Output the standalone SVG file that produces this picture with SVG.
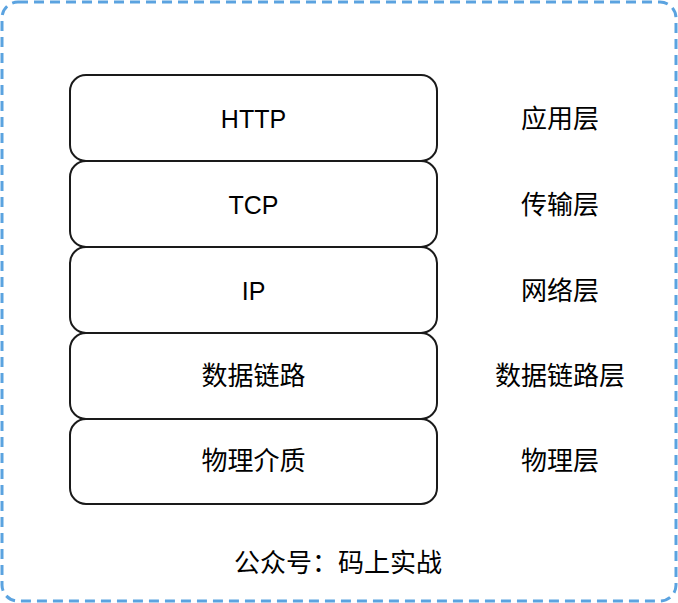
<svg xmlns="http://www.w3.org/2000/svg" width="678" height="603" viewBox="0 0 678 603">
<style>
.b{fill:#fff;stroke:#1a1a1a;stroke-width:2}
.t{font-family:"Liberation Sans","Noto Sans CJK SC",sans-serif;font-size:25px;fill:#000;text-anchor:middle;dominant-baseline:central}
.c{font-size:26px}
</style>
<rect x="0" y="0" width="678" height="603" fill="#fff"/>
<rect id="frame" x="2" y="2" width="674" height="599" rx="16" fill="none" stroke="#5ba3e0" stroke-width="3" stroke-dasharray="10 6"/>
<g id="http"><rect class="b" x="70" y="75" width="367" height="86" rx="16"/><text class="t" x="253.5" y="118.5">HTTP</text></g>
<g id="tcp"><rect class="b" x="70" y="161" width="367" height="86" rx="16"/><text class="t" x="253.5" y="204.5">TCP</text></g>
<g id="ip"><rect class="b" x="70" y="247" width="367" height="86" rx="16"/><text class="t" x="253.5" y="290.5">IP</text></g>
<g id="datalink"><rect class="b" x="70" y="333" width="367" height="86" rx="16"/><text class="t c" x="253.5" y="376">数据链路</text></g>
<g id="physical"><rect class="b" x="70" y="419" width="367" height="85" rx="16"/><text class="t c" x="253.5" y="461">物理介质</text></g>
<g id="l1"><text class="t c" x="560" y="118.5">应用层</text></g>
<g id="l2"><text class="t c" x="560" y="204.5">传输层</text></g>
<g id="l3"><text class="t c" x="560" y="290.5">网络层</text></g>
<g id="l4"><text class="t c" x="560" y="376">数据链路层</text></g>
<g id="l5"><text class="t c" x="560" y="461">物理层</text></g>
<g id="footer"><text class="t c" x="338" y="563">公众号：码上实战</text></g>
<g id="connectors"></g>
</svg>
